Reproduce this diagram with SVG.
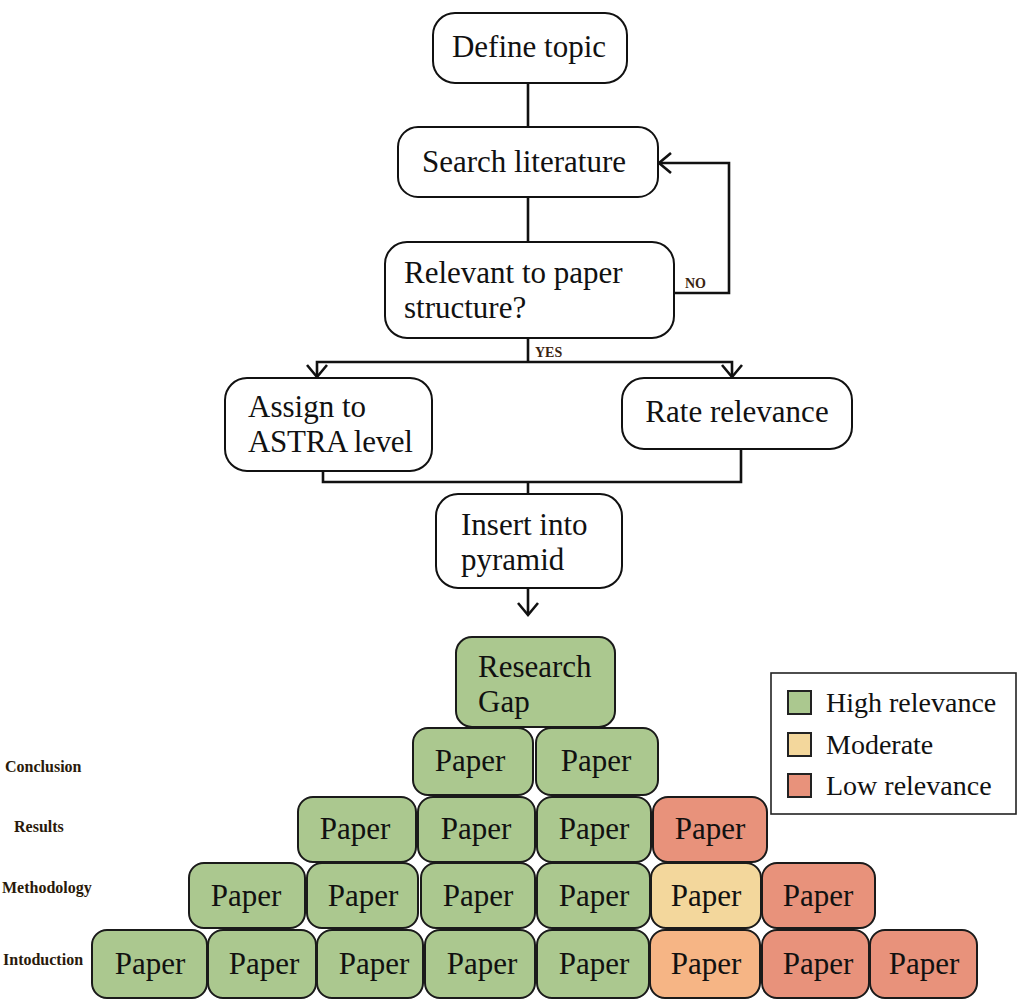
<svg xmlns="http://www.w3.org/2000/svg" width="1020" height="1005" viewBox="0 0 1020 1005">
<defs>
<marker id="chev" viewBox="0 0 24 24" refX="21" refY="12" markerWidth="24" markerHeight="24" orient="auto" markerUnits="userSpaceOnUse">
<path d="M9,2 L21,12 L9,22" fill="none" stroke="#111" stroke-width="2.6"/>
</marker>
<style>
.box{fill:#fff;stroke:#111;stroke-width:2}
.t{font-family:"Liberation Serif","Times New Roman",serif;font-size:31px;fill:#111}
.c{text-anchor:middle}
.lbl{font-family:"Liberation Serif","Times New Roman",serif;font-size:14px;font-weight:bold;fill:#3a2410}
.rl{font-family:"Liberation Serif","Times New Roman",serif;font-size:16px;font-weight:bold;fill:#2a1a0a}
.p{stroke:#1a1a1a;stroke-width:2}
.g{fill:#abc88f}
.y{fill:#f3d79c}
.o{fill:#f6b585}
.r{fill:#e8927b}
.pt{font-family:"Liberation Serif","Times New Roman",serif;font-size:31px;fill:#111;text-anchor:middle}
.lt{font-family:"Liberation Serif","Times New Roman",serif;font-size:28px;fill:#111}
.conn{fill:none;stroke:#111;stroke-width:2.6}
</style>
</defs>
<rect width="1020" height="1005" fill="#fff"/>

<g id="connectors">
<line class="conn" x1="528" y1="83" x2="528" y2="127"/>
<line class="conn" x1="528" y1="197" x2="528" y2="242"/>
<polyline class="conn" points="674,293 729,293 729,163 659,163" marker-end="url(#chev)"/>
<line class="conn" x1="528" y1="338" x2="528" y2="362"/>
<polyline class="conn" points="528,362 317,362 317,377" marker-end="url(#chev)"/>
<polyline class="conn" points="528,362 732,362 732,377" marker-end="url(#chev)"/>
<polyline class="conn" points="323,471 323,482 741,482 741,449"/>
<line class="conn" x1="528" y1="482" x2="528" y2="494"/>
<line class="conn" x1="528" y1="588" x2="528" y2="615" marker-end="url(#chev)"/>
<text class="lbl" x="685" y="288">NO</text>
<text class="lbl" x="535" y="357">YES</text>
</g>

<g id="define">
<rect class="box" x="433" y="13" width="194" height="70" rx="22"/>
<text class="t c" x="529" y="57">Define topic</text>
</g>
<g id="search">
<rect class="box" x="398" y="127" width="260" height="70" rx="20"/>
<text class="t c" x="524" y="172">Search literature</text>
</g>
<g id="relevant">
<rect class="box" x="385" y="242" width="289" height="96" rx="22"/>
<text class="t" x="404" y="283">Relevant to paper</text>
<text class="t" x="404" y="318">structure?</text>
</g>
<g id="assign">
<rect class="box" x="225" y="378" width="207" height="93" rx="22"/>
<text class="t" x="248" y="417">Assign to</text>
<text class="t" x="248" y="452" letter-spacing="-0.3">ASTRA level</text>
</g>
<g id="rate">
<rect class="box" x="622" y="378" width="230" height="71" rx="22"/>
<text class="t c" x="737" y="422">Rate relevance</text>
</g>
<g id="insert">
<rect class="box" x="436" y="494" width="186" height="94" rx="22"/>
<text class="t" x="461" y="535">Insert into</text>
<text class="t" x="461" y="570">pyramid</text>
</g>

<g id="row-labels">
<text class="rl" x="5" y="772">Conclusion</text>
<text class="rl" x="14" y="832">Results</text>
<text class="rl" x="2" y="893">Methodology</text>
<text class="rl" x="3" y="965">Intoduction</text>
</g>

<g id="research-gap">
<rect class="p g" x="456" y="637" width="159" height="90" rx="16"/>
<text class="t" x="478" y="677">Research</text>
<text class="t" x="478" y="712">Gap</text>
</g>

<g id="row-conclusion">
<g id="c1"><rect class="p g" x="413" y="728" width="120" height="67" rx="15"/><text class="pt" x="470" y="771">Paper</text></g>
<g id="c2"><rect class="p g" x="536" y="728" width="122" height="67" rx="15"/><text class="pt" x="596" y="771">Paper</text></g>
</g>
<g id="row-results">
<g id="r1"><rect class="p g" x="298" y="797" width="118" height="65" rx="15"/><text class="pt" x="355" y="839">Paper</text></g>
<g id="r2"><rect class="p g" x="418" y="797" width="117" height="65" rx="15"/><text class="pt" x="476" y="839">Paper</text></g>
<g id="r3"><rect class="p g" x="537" y="797" width="114" height="65" rx="15"/><text class="pt" x="594" y="839">Paper</text></g>
<g id="r4"><rect class="p r" x="653" y="797" width="114" height="65" rx="15"/><text class="pt" x="710" y="839">Paper</text></g>
</g>
<g id="row-methodology">
<g id="m1"><rect class="p g" x="189" y="863" width="116" height="65" rx="15"/><text class="pt" x="246" y="906">Paper</text></g>
<g id="m2"><rect class="p g" x="307" y="863" width="111" height="65" rx="15"/><text class="pt" x="363" y="906">Paper</text></g>
<g id="m3"><rect class="p g" x="421" y="863" width="114" height="65" rx="15"/><text class="pt" x="478" y="906">Paper</text></g>
<g id="m4"><rect class="p g" x="537" y="863" width="113" height="65" rx="15"/><text class="pt" x="594" y="906">Paper</text></g>
<g id="m5"><rect class="p y" x="651" y="863" width="110" height="65" rx="15"/><text class="pt" x="706" y="906">Paper</text></g>
<g id="m6"><rect class="p r" x="762" y="863" width="113" height="65" rx="15"/><text class="pt" x="818" y="906">Paper</text></g>
</g>
<g id="row-introduction">
<g id="i1"><rect class="p g" x="92" y="930" width="115" height="68" rx="15"/><text class="pt" x="150" y="974">Paper</text></g>
<g id="i2"><rect class="p g" x="208" y="930" width="108" height="68" rx="15"/><text class="pt" x="264" y="974">Paper</text></g>
<g id="i3"><rect class="p g" x="317" y="930" width="106" height="68" rx="15"/><text class="pt" x="374" y="974">Paper</text></g>
<g id="i4"><rect class="p g" x="425" y="930" width="110" height="68" rx="15"/><text class="pt" x="482" y="974">Paper</text></g>
<g id="i5"><rect class="p g" x="537" y="930" width="112" height="68" rx="15"/><text class="pt" x="594" y="974">Paper</text></g>
<g id="i6"><rect class="p o" x="650" y="930" width="110" height="68" rx="15"/><text class="pt" x="706" y="974">Paper</text></g>
<g id="i7"><rect class="p r" x="762" y="930" width="107" height="68" rx="15"/><text class="pt" x="818" y="974">Paper</text></g>
<g id="i8"><rect class="p r" x="870" y="930" width="107" height="68" rx="15"/><text class="pt" x="924" y="974">Paper</text></g>
</g>

<g id="legend">
<rect x="771" y="673" width="245" height="141" fill="#fff" stroke="#222" stroke-width="1.6"/>
<rect class="g" x="788" y="691" width="23" height="23" stroke="#222" stroke-width="2"/>
<text class="lt" x="826" y="712">High relevance</text>
<rect class="y" x="788" y="733" width="23" height="23" stroke="#222" stroke-width="2"/>
<text class="lt" x="826" y="754">Moderate</text>
<rect class="r" x="788" y="774" width="23" height="23" stroke="#222" stroke-width="2"/>
<text class="lt" x="826" y="795">Low relevance</text>
</g>
</svg>
